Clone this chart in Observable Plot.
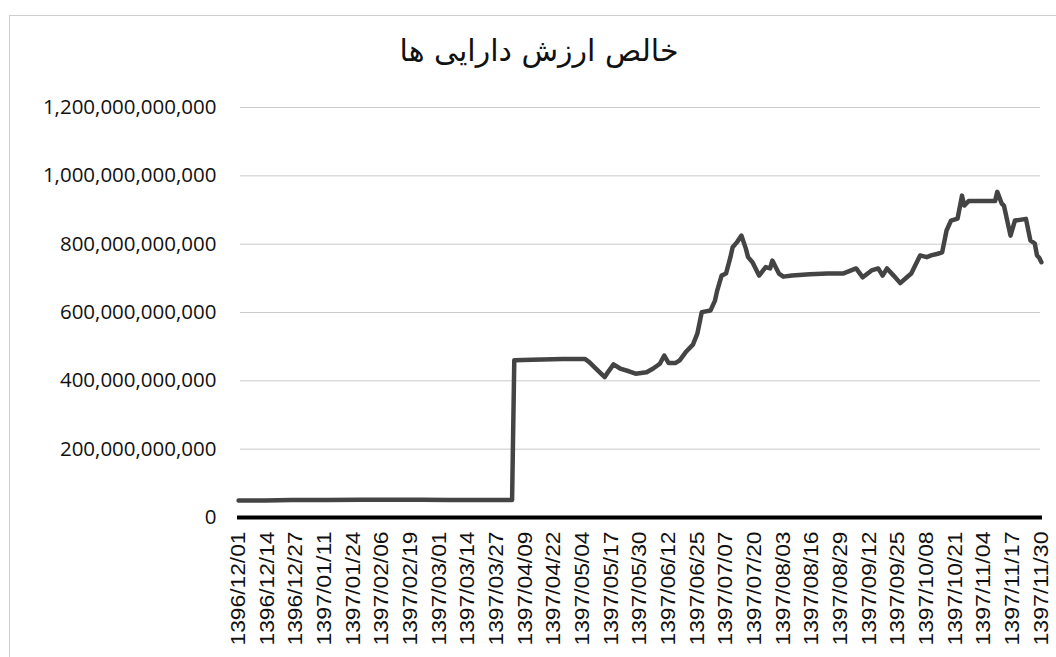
<!DOCTYPE html>
<html>
<head>
<meta charset="utf-8">
<script src="https://cdn.jsdelivr.net/npm/d3@7"></script>
<script src="https://cdn.jsdelivr.net/npm/@observablehq/plot@0.6"></script>
<style>
  html, body { margin: 0; padding: 0; background: #fff; }
  #wrap { position: relative; width: 1056px; height: 657px; overflow: hidden; }
  #frame { position: absolute; left: 9px; top: 15px; width: 1100px; height: 700px;
           border-top: 1px solid #cfcfcf; border-left: 1px solid #cfcfcf; }
  #title { position: absolute; left: 0; top: 33px; width: 1078px; text-align: center;
           font-family: "DejaVu Sans", sans-serif; font-size: 30px; color: #111; }
  #chart { position: absolute; left: 0; top: 0; }
</style>
</head>
<body>
<div id="wrap">
  <div id="frame"></div>
  <div id="chart"></div>
  <div id="title" dir="rtl"></div>
</div>
<script>
const titleText = "خالص ارزش دارایی ها";

// Tick labels (every 13 days from 1396/12/01)
const tickLabels = [
  "1396/12/01","1396/12/14","1396/12/27","1397/01/11","1397/01/24","1397/02/06",
  "1397/02/19","1397/03/01","1397/03/14","1397/03/27","1397/04/09","1397/04/22",
  "1397/05/04","1397/05/17","1397/05/30","1397/06/12","1397/06/25","1397/07/07",
  "1397/07/20","1397/08/03","1397/08/16","1397/08/29","1397/09/12","1397/09/25",
  "1397/10/08","1397/10/21","1397/11/04","1397/11/17","1397/11/30"
];
const tickDays = [0,13,26,39,52,65,78,91,104,117,130,143,156,169,182,195,208,221,234,247,260,273,286,299,312,325,338,351,364];

// Y ticks
const yTicks = [0, 200e9, 400e9, 600e9, 800e9, 1000e9, 1200e9];

// Series: day index since 1396/12/01, net asset value (billion rial)
const days = [
  0, 12, 24, 40, 56, 70, 83, 95, 110, 124,
  125, 133, 147, 157, 159, 162, 166, 167, 170, 173, 177, 180, 185, 188, 191, 193, 195, 198, 200,
  203, 206, 208, 210, 214, 216, 217, 219, 221, 223, 224, 226, 228, 230, 231, 233, 236, 239, 241,
  242, 245, 247, 251, 259, 267, 274, 280, 283, 287, 290, 292, 294, 297, 300, 303, 305, 309, 312,
  314, 317, 319, 321, 323, 326, 328, 329, 331, 343, 344, 346, 347, 350, 352, 357, 359, 361, 362, 363, 364
];
const values = [
  50, 50, 51, 51, 52, 52, 52, 51, 51, 51,
  460, 462, 464, 464, 455, 436, 411, 421, 448, 436, 428, 421, 425, 436, 450, 474, 452, 452, 460,
  486, 506, 538, 601, 606, 635, 664, 708, 714, 762, 791, 806, 825, 787, 762, 747, 708, 733, 729,
  752, 714, 705, 708, 712, 714, 714, 729, 703, 723, 729, 708, 729, 708, 686, 703, 714, 767, 762,
  767, 772, 776, 840, 869, 875, 942, 913, 926, 926, 953, 919, 913, 825, 869, 874, 811, 802, 767, 760, 747
];

const data = days.map((d, i) => ({day: d, value: values[i] * 1e9}));

document.getElementById("title").textContent = titleText;

const chart = Plot.plot({
  width: 1056,
  height: 657,
  marginLeft: 237,
  marginRight: 14,
  marginTop: 107,
  marginBottom: 140,
  style: {background: "transparent", fontFamily: "Liberation Sans, Arial, sans-serif", color: "#111"},
  x: {domain: [-0.5, 364.5]},
  y: {domain: [0, 1200e9]},
  marks: [
    Plot.ruleY(yTicks.slice(1), {stroke: "#cacaca", strokeWidth: 1, insetLeft: 3, insetRight: 2}),
    Plot.line(data, {x: "day", y: "value", stroke: "#444", strokeWidth: 4.5, strokeLinejoin: "round"}),
    Plot.ruleY([0], {stroke: "#000", strokeWidth: 4}),
    Plot.axisY({ticks: yTicks, tickFormat: d3.format(",.0f"), tickSize: 0, tickPadding: 21, label: null}),
    Plot.axisX({ticks: tickDays, tickFormat: (d) => tickLabels[tickDays.indexOf(d)], tickSize: 0,
                tickPadding: 14, tickRotate: -90, label: null})
  ]
});
document.getElementById("chart").appendChild(chart);

// Font styling of the axes
d3.select(chart).selectAll('g[aria-label="y-axis tick label"]')
  .attr("font-family", "Open Sans, Noto Sans, sans-serif")
  .attr("font-size", 20.5)
  .attr("fill", "#111");
d3.select(chart).selectAll('g[aria-label="x-axis tick label"]')
  .attr("font-family", "Liberation Sans, Arial, sans-serif")
  .attr("font-size", 19.5)
  .attr("fill", "#111")
  .selectAll("text")
  .attr("textLength", 114)
  .attr("lengthAdjust", "spacingAndGlyphs");
</script>
</body>
</html>
